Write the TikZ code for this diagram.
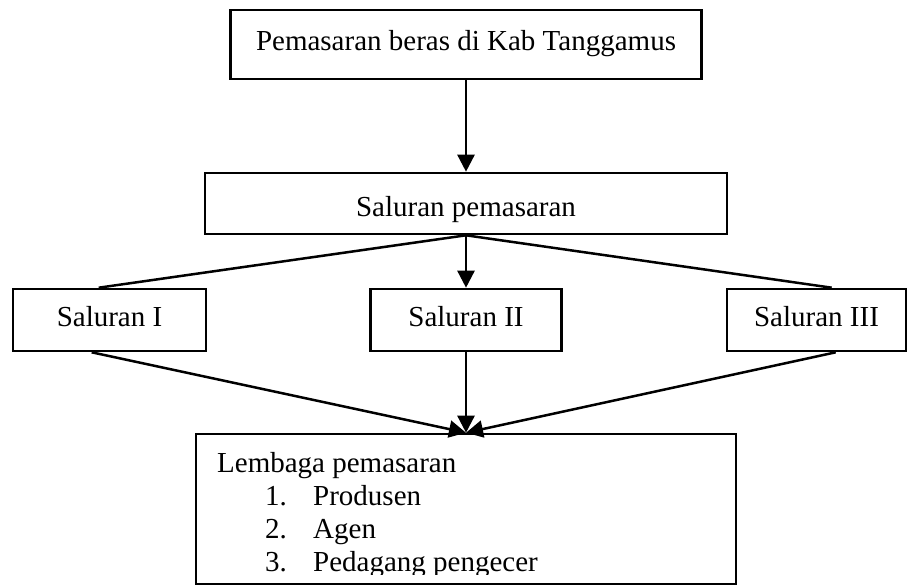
\documentclass[tikz,border=0pt]{standalone}
\usepackage{fontspec}
\setmainfont{Liberation Serif}
\usetikzlibrary{arrows.meta}
\begin{document}
\begin{tikzpicture}[x=1pt,y=-1pt,
  box/.style={draw,line width=2.6pt,rectangle,inner sep=0pt,
    font=\fontsize{29}{33}\selectfont,text height=20pt,text depth=7pt},
  txt/.style={inner sep=0pt,anchor=base west,font=\fontsize{29}{33}\selectfont},
  conn/.style={line width=2.5pt},
  arr/.style={conn,-{Triangle[length=17pt,width=17pt]}}]
\useasboundingbox (0,0) rectangle (907,586);
\node[box,minimum width=471pt,minimum height=69pt] (top) at (466,44.5) {Pemasaran beras di Kab Tanggamus};
\node[box,minimum width=522pt,minimum height=61pt,text height=26pt,text depth=0pt] (sp) at (466,203.5) {Saluran pemasaran};
\node[box,minimum width=193pt,minimum height=62pt] (s1) at (109.5,320) {Saluran I};
\node[box,minimum width=191pt,minimum height=62pt] (s2) at (466,320) {Saluran II};
\node[box,minimum width=179pt,minimum height=62pt] (s3) at (816.5,320) {Saluran III};
\node[box,minimum width=540pt,minimum height=150pt] (lem) at (466,509) {};
\node[txt] (lt) at (217,472) {Lembaga pemasaran};
\node[txt] (l1) at (265,505) {\makebox[48pt][l]{1.}Produsen};
\node[txt] (l2) at (265,538) {\makebox[48pt][l]{2.}Agen};
\begin{scope}
  \clip (196,434) rectangle (736,574);
  \node[txt] (l3) at (265,571) {\makebox[48pt][l]{3.}Pedagang pengecer};
\end{scope}
\draw[arr] (top.south) -- (sp.north);
\draw[conn] (sp.south) -- ([xshift=87pt]s1.north west);
\draw[conn] (sp.south) -- ([xshift=106pt]s3.north west);
\draw[arr] (sp.south) -- (s2.north);
\draw[arr] ([xshift=80pt]s1.south west) -- (lem.north);
\draw[arr] ([xshift=110pt]s3.south west) -- (lem.north);
\draw[arr] (s2.south) -- (lem.north);
\end{tikzpicture}
\end{document}
